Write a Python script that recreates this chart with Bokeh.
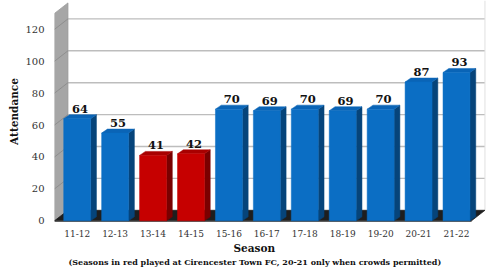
import numpy as np
from bokeh.plotting import figure
from bokeh.models import Range1d, FixedTicker, Title, ColumnDataSource
from bokeh.embed import file_html
from bokeh.resources import INLINE

# ---------------- data ----------------
seasons = ["11-12", "12-13", "13-14", "14-15", "15-16", "16-17",
           "17-18", "18-19", "19-20", "20-21", "21-22"]
attendance = [64, 55, 41, 42, 70, 69, 70, 69, 70, 87, 93]
played_at_cirencester = [False, False, True, True, False, False,
                         False, False, False, False, False]
y_ticks = [0, 20, 40, 60, 80, 100, 120]
x_title = "Season"
y_title = "Attendance"
subtitle = "(Seasons in red played at Cirencester Town FC, 20-21 only when crowds permitted)"

# ---------------- style / geometry ----------------
SERIF = "DejaVu Serif"
BLUE = ("#0B6EC4", "#06447A", "#0A64B6")   # front, side, top
RED = ("#C60000", "#7A0000", "#A80000")
HALF_W = 0.355        # half bar width (category units)
BAR_DX, BAR_DY = 0.153, 2.5      # bar depth offset
WALL_DX, WALL_DY = 0.355, 6.58   # wall depth offset
X0, X1 = -0.598, 10.791
Y0, Y1 = -1.066, 138.1
WALL_TOP = 130
FRONT_LEFT = X0
FRONT_RIGHT = 10.395

p = figure(width=490, height=267, x_range=Range1d(X0, X1), y_range=Range1d(Y0, Y1),
           output_backend="svg", toolbar_location=None,
           min_border_left=54, min_border_right=4, min_border_top=0, min_border_bottom=45)
p.outline_line_color = None
p.xgrid.visible = False
p.ygrid.visible = False
p.background_fill_color = "white"
p.border_fill_color = "white"

# back wall gridlines
bx0, bx1 = FRONT_LEFT + WALL_DX, FRONT_RIGHT + WALL_DX
grid_vals = [t for t in y_ticks if t > 0]
p.multi_line(xs=[[bx0, bx1] for _ in grid_vals],
             ys=[[t + WALL_DY, t + WALL_DY] for t in grid_vals],
             line_color="#BDBDBD", line_width=1.4)
# right edge of back wall
p.line([bx1, bx1], [WALL_DY, Y1], line_color="#E0E0E0", line_width=1)

# left side wall
p.patch([FRONT_LEFT, FRONT_LEFT, bx0, bx0], [0, WALL_TOP, WALL_TOP + WALL_DY, WALL_DY],
        fill_color="#A6A6A6", line_color="#9A9A9A", line_width=0.8)
p.multi_line(xs=[[FRONT_LEFT, bx0] for _ in grid_vals],
             ys=[[t, t + WALL_DY] for t in grid_vals],
             line_color="#8E8E8E", line_width=1)

# floor
p.patch([FRONT_LEFT, FRONT_RIGHT, bx1, bx0], [0, 0, WALL_DY, WALL_DY],
        fill_color="#1E1E1E", line_color="#1E1E1E", line_width=0.8)
p.patch([FRONT_LEFT, FRONT_RIGHT, FRONT_RIGHT, FRONT_LEFT], [0, 0, -0.6, -0.6],
        fill_color="#3A3A3A", line_color=None)

# bars
idx = np.arange(len(seasons))
front_xs, front_ys, side_xs, side_ys, top_xs, top_ys = [], [], [], [], [], []
fc, sc, tc = [], [], []
for i, v, red in zip(idx, attendance, played_at_cirencester):
    pal = RED if red else BLUE
    l, r = i - HALF_W, i + HALF_W
    front_xs.append([l, r, r, l]); front_ys.append([0, 0, v, v])
    side_xs.append([r, r + BAR_DX, r + BAR_DX, r]); side_ys.append([0, BAR_DY, v + BAR_DY, v])
    top_xs.append([l, r, r + BAR_DX, l + BAR_DX]); top_ys.append([v, v, v + BAR_DY, v + BAR_DY])
    fc.append(pal[0]); sc.append(pal[1]); tc.append(pal[2])

p.patches(side_xs, side_ys, fill_color=sc, line_color=sc, line_width=0.5)
p.patches(top_xs, top_ys, fill_color=tc, line_color=tc, line_width=0.5)
p.patches(front_xs, front_ys, fill_color=fc, line_color=fc, line_width=0.5)

# value labels
lab_src = ColumnDataSource(dict(x=idx + BAR_DX / 2, y=np.array(attendance) + BAR_DY,
                                t=[str(v) for v in attendance]))
p.text(x="x", y="y", text="t", source=lab_src, text_align="center", text_baseline="bottom",
       y_offset=-2, text_font={"value": SERIF}, text_font_style="bold",
       text_font_size="11.5px", text_color="#111111")

# axes
for ax in (p.xaxis[0], p.yaxis[0]):
    ax.axis_line_color = None
    ax.major_tick_line_color = None
    ax.minor_tick_line_color = None
    ax.major_tick_out = 0
    ax.major_tick_in = 0
    ax.minor_tick_out = 0
    ax.minor_tick_in = 0
    ax.major_label_text_font = SERIF
    ax.major_label_text_color = "#333333"

p.xaxis.ticker = FixedTicker(ticks=list(idx))
p.xaxis.major_label_overrides = {int(i): s for i, s in zip(idx, seasons)}
p.xaxis.major_label_standoff = 7
p.xaxis.major_label_text_font_size = "9px"

p.yaxis.ticker = FixedTicker(ticks=y_ticks)
p.yaxis.major_label_standoff = 10
p.yaxis.major_label_text_font_size = "10px"
p.yaxis.axis_label = y_title
p.yaxis.axis_label_text_font = SERIF
p.yaxis.axis_label_text_font_style = "bold"
p.yaxis.axis_label_text_font_size = "10.5px"
p.yaxis.axis_label_text_color = "#111111"
p.yaxis.axis_label_standoff = 2

p.add_layout(Title(text=x_title, align="left", offset=179, text_font=SERIF,
                   text_font_style="bold", text_font_size="10.5px",
                   text_color="#111111", standoff=0), "below")
p.add_layout(Title(text=subtitle, align="left", offset=14, text_font=SERIF,
                   text_font_style="bold", text_font_size="8px",
                   text_color="#111111", standoff=2), "below")

open("out.html", "w").write(file_html(p, INLINE))
